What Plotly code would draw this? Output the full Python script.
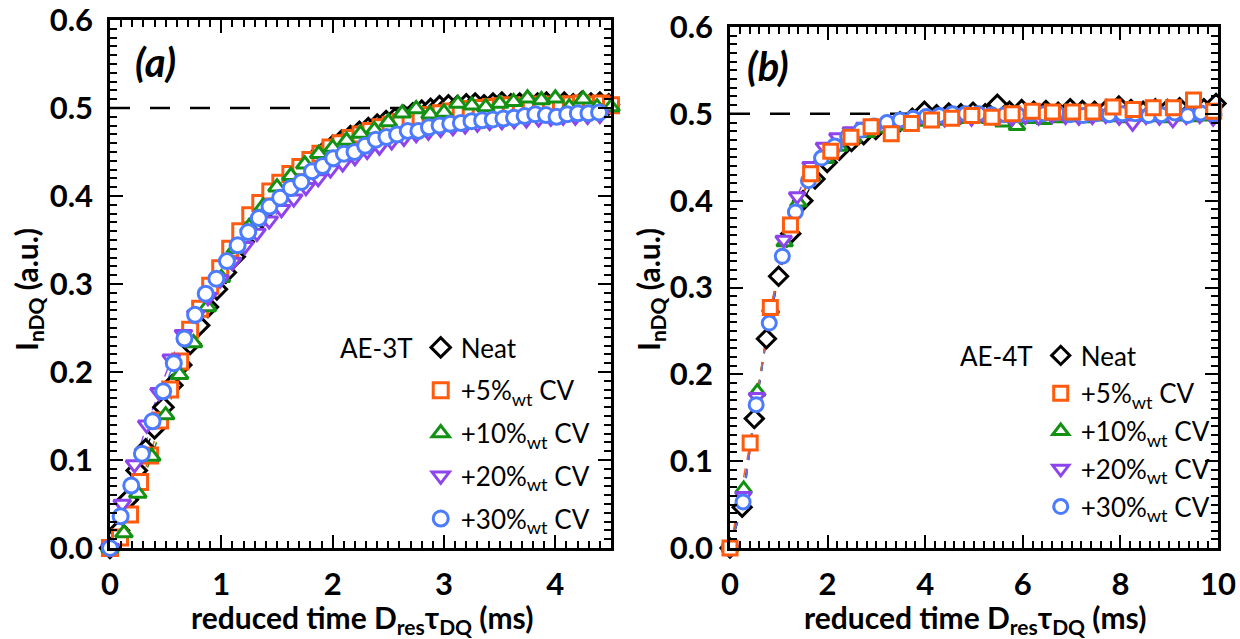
import plotly.graph_objects as go

# ---------------- Panel (a): AE-3T ----------------
a_neat_dx = 0.08
a_neat_y = [0.000, 0.020, 0.055, 0.088, 0.112, 0.136, 0.160, 0.185, 0.208, 0.232,
            0.253, 0.274, 0.294, 0.313, 0.331, 0.348, 0.364, 0.379, 0.393, 0.405,
            0.416, 0.426, 0.435, 0.443, 0.450, 0.457, 0.463, 0.468, 0.473, 0.477,
            0.481, 0.485, 0.488, 0.491, 0.494, 0.497, 0.499, 0.502, 0.503, 0.502,
            0.504, 0.505, 0.503, 0.505, 0.506, 0.504, 0.505, 0.506, 0.505, 0.506,
            0.505, 0.506, 0.504, 0.507, 0.505, 0.506, 0.504]

a_cv5_dx = 0.09
a_cv5_y = [0.000, 0.012, 0.038, 0.075, 0.105, 0.145, 0.180, 0.212, 0.248, 0.272,
           0.298, 0.318, 0.340, 0.360, 0.378, 0.392, 0.405, 0.415, 0.425, 0.433,
           0.441, 0.448, 0.455, 0.460, 0.466, 0.470, 0.474, 0.478, 0.481, 0.484,
           0.487, 0.490, 0.492, 0.494, 0.496, 0.498, 0.499, 0.500, 0.501, 0.502,
           0.503, 0.502, 0.503, 0.504, 0.503, 0.504, 0.504, 0.505, 0.504, 0.505,
           0.503]

a_cv10_dx = 0.125
a_cv10_y = [0.000, 0.017, 0.062, 0.104, 0.151, 0.197, 0.233, 0.274, 0.307, 0.340,
            0.365, 0.388, 0.410, 0.423, 0.436, 0.448, 0.455, 0.463, 0.471, 0.475,
            0.484, 0.494, 0.499, 0.493, 0.495, 0.505, 0.503, 0.501, 0.505, 0.507,
            0.511, 0.509, 0.511, 0.501, 0.510, 0.501, 0.501]

a_cv20_dx = 0.11
a_cv20_y = [0.000, 0.050, 0.095, 0.140, 0.177, 0.215, 0.243, 0.265, 0.285, 0.305,
            0.325, 0.343, 0.358, 0.372, 0.385, 0.397, 0.410, 0.420, 0.430, 0.437,
            0.444, 0.451, 0.456, 0.462, 0.466, 0.470, 0.473, 0.476, 0.478, 0.480,
            0.482, 0.484, 0.485, 0.486, 0.487, 0.488, 0.489, 0.490, 0.490, 0.491,
            0.492]

a_cv30_dx = 0.0955
a_cv30_y = [0.000, 0.036, 0.071, 0.107, 0.144, 0.178, 0.210, 0.238, 0.265, 0.289,
            0.306, 0.326, 0.344, 0.359, 0.375, 0.388, 0.398, 0.409, 0.416, 0.428,
            0.434, 0.443, 0.448, 0.450, 0.457, 0.464, 0.467, 0.470, 0.474, 0.474,
            0.478, 0.480, 0.482, 0.483, 0.485, 0.486, 0.487, 0.488, 0.489, 0.491,
            0.493, 0.492, 0.490, 0.493, 0.494, 0.494, 0.495]

# ---------------- Panel (b): AE-4T ----------------
b_neat_dx = 0.249
b_neat_y = [0.000, 0.047, 0.149, 0.241, 0.313, 0.362, 0.400, 0.425, 0.444, 0.458,
            0.468, 0.476, 0.482, 0.487, 0.491, 0.495, 0.503, 0.499, 0.501, 0.500,
            0.502, 0.500, 0.511, 0.503, 0.505, 0.503, 0.504, 0.502, 0.506, 0.504,
            0.503, 0.505, 0.509, 0.505, 0.503, 0.506, 0.505, 0.507, 0.504, 0.506,
            0.512]

b_cv5_dx = 0.413
b_cv5_y = [0.000, 0.121, 0.277, 0.372, 0.431, 0.457, 0.473, 0.485, 0.477, 0.489,
           0.493, 0.495, 0.498, 0.496, 0.500, 0.503, 0.502, 0.502, 0.502, 0.508,
           0.505, 0.507, 0.507, 0.516, 0.503]

b_cv10_dx = 0.28
b_cv10_y = [0.000, 0.068, 0.180, 0.275, 0.352, 0.398, 0.428, 0.448, 0.462, 0.472,
            0.478, 0.483, 0.486, 0.489, 0.491, 0.492, 0.493, 0.494, 0.495, 0.494,
            0.490, 0.486, 0.494, 0.493, 0.495, 0.496, 0.495, 0.497, 0.496, 0.495,
            0.497, 0.496, 0.495, 0.497, 0.496, 0.497]

b_cv20_dx = 0.275
b_cv20_y = [0.000, 0.060, 0.174, 0.270, 0.355, 0.405, 0.440, 0.462, 0.473, 0.480,
            0.485, 0.487, 0.490, 0.492, 0.494, 0.495, 0.494, 0.496, 0.495, 0.497,
            0.496, 0.495, 0.497, 0.496, 0.498, 0.497, 0.496, 0.497, 0.498, 0.496,
            0.489, 0.497, 0.496, 0.493, 0.497, 0.498, 0.495]

b_cv30_dx = 0.268
b_cv30_y = [0.000, 0.053, 0.165, 0.259, 0.336, 0.387, 0.423, 0.449, 0.463, 0.474,
            0.481, 0.486, 0.490, 0.493, 0.495, 0.497, 0.498, 0.500, 0.500, 0.500,
            0.499, 0.499, 0.499, 0.500, 0.500, 0.501, 0.499, 0.498, 0.500, 0.499,
            0.500, 0.500, 0.498, 0.499, 0.501, 0.498, 0.501, 0.500]

series_names = ["Neat", "+5%<sub>wt</sub> CV", "+10%<sub>wt</sub> CV",
                "+20%<sub>wt</sub> CV", "+30%<sub>wt</sub> CV"]
series_colors = ["#000000", "#FF5B0F", "#139113", "#8E44EC", "#4B7BFF"]
series_symbols = ["diamond", "square", "triangle-up", "triangle-down", "circle"]

PLATEAU = 0.5
FONT = "Lato"

panel_a = [(a_neat_dx, a_neat_y), (a_cv5_dx, a_cv5_y), (a_cv10_dx, a_cv10_y),
           (a_cv20_dx, a_cv20_y), (a_cv30_dx, a_cv30_y)]
panel_b = [(b_neat_dx, b_neat_y), (b_cv5_dx, b_cv5_y), (b_cv10_dx, b_cv10_y),
           (b_cv20_dx, b_cv20_y), (b_cv30_dx, b_cv30_y)]

fig = go.Figure()


def add_panel(panel, xa, ya, legend, draw_order, msize):
    # thin dashed fit lines first
    for i in draw_order:
        dx, ys = panel[i]
        xs = [round(dx * k, 4) for k in range(len(ys))]
        fig.add_trace(go.Scatter(
            x=xs, y=ys, mode="lines", xaxis=xa, yaxis=ya, showlegend=False,
            line=dict(color=series_colors[i], width=1.4, dash="dash"),
            hoverinfo="skip", cliponaxis=False))
    for i in draw_order:
        dx, ys = panel[i]
        xs = [round(dx * k, 4) for k in range(len(ys))]
        fig.add_trace(go.Scatter(
            x=xs, y=ys, mode="markers", xaxis=xa, yaxis=ya,
            name=series_names[i], legend=legend, legendrank=i + 1,
            legendgroup=legend + str(i),
            marker=dict(symbol=series_symbols[i], size=msize, color="white",
                        line=dict(color=series_colors[i], width=3)),
            cliponaxis=False))


add_panel(panel_a, "x", "y", "legend", [0, 1, 2, 3, 4], 15)
add_panel(panel_b, "x2", "y2", "legend2", [0, 2, 3, 4, 1], 14)

tickfont = dict(family=FONT, size=31, color="black", weight="bold")


def xaxis(dom, rng, dt, mdt, anchor):
    return dict(domain=dom, range=rng, dtick=dt, tick0=0, anchor=anchor,
                automargin=False, ticklabeloverflow="allow",
                showline=True, linecolor="black", linewidth=2.5, mirror="allticks",
                ticks="inside", ticklen=13, tickwidth=2, tickcolor="black",
                minor=dict(dtick=mdt, ticks="inside", ticklen=7, tickwidth=1.6,
                           tickcolor="black"),
                showgrid=False, zeroline=False, tickfont=tickfont,
                ticklabelstandoff=7)


def yaxis(dom, anchor):
    return dict(domain=dom, range=[0, 0.6], dtick=0.1, tick0=0, anchor=anchor,
                tickformat=".1f", automargin=False, ticklabeloverflow="allow",
                showline=True, linecolor="black", linewidth=2.5, mirror="allticks",
                ticks="inside", ticklen=13, tickwidth=2, tickcolor="black",
                minor=dict(dtick=0.01, ticks="inside", ticklen=7, tickwidth=1.6,
                           tickcolor="black"),
                showgrid=False, zeroline=False, tickfont=tickfont,
                ticklabelstandoff=8)


W, H = 1240, 639
ya_dom = [(H - 548) / H, (H - 20) / H]
yb_dom = [(H - 548) / H, (H - 27) / H]

legend_common = dict(bgcolor="rgba(0,0,0,0)", xanchor="left", yanchor="top",
                     font=dict(family=FONT, size=26, color="black"),
                     itemsizing="trace", traceorder="grouped",
                     itemwidth=30)

fig.update_layout(
    template="none",
    width=W, height=H, margin=dict(l=0, r=0, t=0, b=0, autoexpand=False),
    paper_bgcolor="white", plot_bgcolor="white",
    xaxis=xaxis([110 / W, 611 / W], [0, 4.5], 1, 0.1, "y"),
    yaxis=yaxis(ya_dom, "x"),
    xaxis2=xaxis([730 / W, 1218 / W], [0, 10], 2, 0.2, "y2"),
    yaxis2=yaxis(yb_dom, "x2"),
    legend=dict(x=338 / W, y=(H - 324) / H, tracegroupgap=6,
                title=dict(text="AE-3T", side="left",
                           font=dict(family=FONT, size=26, color="black")),
                **legend_common),
    legend2=dict(x=958 / W, y=(H - 332) / H, tracegroupgap=1,
                 title=dict(text="AE-4T", side="left",
                            font=dict(family=FONT, size=26, color="black")),
                 **legend_common),
    showlegend=True,
)

for xr, x0, x1 in [("x", 0, 4.5), ("x2", 0, 10)]:
    yr = "y" if xr == "x" else "y2"
    fig.add_shape(type="line", xref=xr, yref=yr, x0=x0, x1=x1, y0=PLATEAU, y1=PLATEAU,
                  line=dict(color="black", width=2.5, dash="20px,20px"), layer="below")

title_font = dict(family=FONT, size=30, color="black", weight="bold")
label_font = dict(family=FONT, size=40, color="black", weight="bold")
annos = [
    dict(text="<i>(a)</i>", x=155 / W, y=(H - 62) / H, font=label_font),
    dict(text="<i>(b)</i>", x=768 / W, y=(H - 66) / H, font=label_font),
    dict(text="I<sub>nDQ</sub> (a.u.)", x=28 / W, y=(H - 290) / H, textangle=-90, font=title_font),
    dict(text="I<sub>nDQ</sub> (a.u.)", x=650 / W, y=(H - 290) / H, textangle=-90, font=title_font),
    dict(text="reduced time D<sub>res</sub>τ<sub>DQ</sub> (ms)", x=362 / W, y=(H - 619) / H, font=title_font),
    dict(text="reduced time D<sub>res</sub>τ<sub>DQ</sub> (ms)", x=975 / W, y=(H - 619) / H, font=title_font),
]
for a in annos:
    fig.add_annotation(xref="paper", yref="paper", showarrow=False,
                       xanchor="center", yanchor="middle", **a)

fig.write_html("out.html")
